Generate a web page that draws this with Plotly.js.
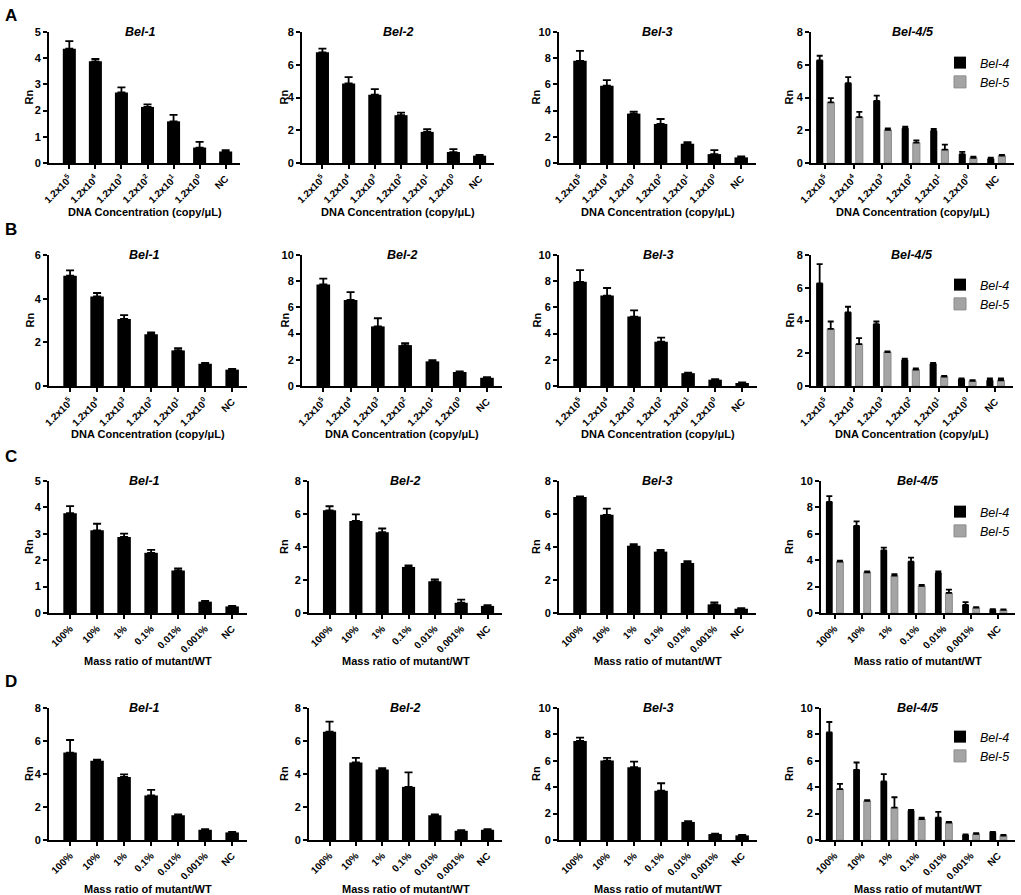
<!DOCTYPE html>
<html>
<head>
<meta charset="utf-8">
<script src="https://cdn.plot.ly/plotly-3.0.1.min.js"></script>
<style>
  html, body { margin: 0; padding: 0; background: #fff; }
  #chart { width: 1021px; height: 895px; }
</style>
</head>
<body>
<div id="chart"></div>
<script>
const W = 1021, H = 895;

// categories
const concLabels = ['1.2x10<sup>5</sup>', '1.2x10<sup>4</sup>', '1.2x10<sup>3</sup>', '1.2x10<sup>2</sup>', '1.2x10<sup>1</sup>', '1.2x10<sup>0</sup>', 'NC'];
const massLabels = ['100%', '10%', '1%', '0.1%', '0.01%', '0.001%', 'NC'];

// A - DNA concentration, run 1
const aBel1 = [4.36, 3.88, 2.69, 2.14, 1.59, 0.59, 0.44];
const aBel1Sd = [0.29, 0.09, 0.2, 0.1, 0.25, 0.22, 0.05];
const aBel2 = [6.76, 4.86, 4.17, 2.92, 1.9, 0.67, 0.45];
const aBel2Sd = [0.22, 0.38, 0.34, 0.16, 0.16, 0.18, 0.04];
const aBel3 = [7.8, 5.9, 3.77, 2.98, 1.47, 0.68, 0.43];
const aBel3Sd = [0.76, 0.43, 0.15, 0.38, 0.12, 0.3, 0.08];
const aBel4 = [6.27, 4.87, 3.8, 2.12, 1.97, 0.54, 0.26];
const aBel4Sd = [0.28, 0.38, 0.32, 0.1, 0.12, 0.14, 0.07];
const aBel5 = [3.7, 2.8, 2.02, 1.24, 0.82, 0.32, 0.45];
const aBel5Sd = [0.26, 0.32, 0.1, 0.14, 0.3, 0.07, 0.05];

// B - DNA concentration, run 2
const bBel1 = [5.05, 4.1, 3.07, 2.37, 1.63, 1.02, 0.75];
const bBel1Sd = [0.25, 0.16, 0.18, 0.08, 0.1, 0.04, 0.03];
const bBel2 = [7.75, 6.57, 4.55, 3.12, 1.88, 1.07, 0.63];
const bBel2Sd = [0.45, 0.6, 0.62, 0.15, 0.1, 0.05, 0.05];
const bBel3 = [7.95, 6.9, 5.3, 3.38, 0.98, 0.48, 0.23];
const bBel3Sd = [0.9, 0.58, 0.48, 0.32, 0.04, 0.04, 0.05];
const bBel4 = [6.27, 4.5, 3.78, 1.6, 1.36, 0.43, 0.35];
const bBel4Sd = [1.17, 0.34, 0.16, 0.07, 0.05, 0.04, 0.12];
const bBel5 = [3.49, 2.56, 2.07, 1.0, 0.57, 0.31, 0.35];
const bBel5Sd = [0.45, 0.36, 0.04, 0.08, 0.04, 0.04, 0.12];

// C - mass ratio, run 1
const cBel1 = [3.78, 3.13, 2.88, 2.28, 1.61, 0.43, 0.25];
const cBel1Sd = [0.27, 0.25, 0.13, 0.11, 0.08, 0.03, 0.02];
const cBel2 = [6.22, 5.58, 4.9, 2.79, 1.92, 0.62, 0.43];
const cBel2Sd = [0.25, 0.4, 0.22, 0.1, 0.12, 0.19, 0.04];
const cBel3 = [7.03, 5.95, 4.07, 3.72, 3.03, 0.52, 0.26];
const cBel3Sd = [0.04, 0.37, 0.11, 0.11, 0.11, 0.12, 0.04];
const cBel4 = [8.41, 6.59, 4.75, 3.89, 3.03, 0.61, 0.25];
const cBel4Sd = [0.45, 0.35, 0.2, 0.3, 0.13, 0.22, 0.05];
const cBel5 = [3.89, 3.08, 2.83, 2.05, 1.52, 0.4, 0.23];
const cBel5Sd = [0.07, 0.08, 0.12, 0.07, 0.25, 0.05, 0.05];

// D - mass ratio, run 2
const dBel1 = [5.3, 4.8, 3.82, 2.7, 1.5, 0.62, 0.46];
const dBel1Sd = [0.76, 0.07, 0.16, 0.34, 0.05, 0.04, 0.03];
const dBel2 = [6.56, 4.7, 4.28, 3.22, 1.5, 0.56, 0.62];
const dBel2Sd = [0.61, 0.28, 0.07, 0.88, 0.05, 0.03, 0.03];
const dBel3 = [7.5, 6.02, 5.52, 3.73, 1.37, 0.45, 0.35];
const dBel3Sd = [0.26, 0.2, 0.42, 0.57, 0.05, 0.03, 0.03];
const dBel4 = [8.15, 5.32, 4.43, 2.23, 1.7, 0.38, 0.58];
const dBel4Sd = [0.79, 0.55, 0.56, 0.05, 0.43, 0.05, 0.03];
const dBel5 = [3.85, 2.96, 2.46, 1.59, 1.32, 0.46, 0.33];
const dBel5Sd = [0.4, 0.05, 0.78, 0.11, 0.05, 0.05, 0.05];

const titles = ['Bel-1', 'Bel-2', 'Bel-3', 'Bel-4/5'];
const rowLetters = ['A', 'B', 'C', 'D'];
const rowCats = [concLabels, concLabels, massLabels, massLabels];
const rowXTitles = ['DNA Concentration (copy/\u03bcL)', 'DNA Concentration (copy/\u03bcL)', 'Mass ratio of mutant/WT', 'Mass ratio of mutant/WT'];

// per-row: single series for col 1-3, pair for col 4
const rowData = [
  [[aBel1, aBel1Sd], [aBel2, aBel2Sd], [aBel3, aBel3Sd], [aBel4, aBel4Sd, aBel5, aBel5Sd]],
  [[bBel1, bBel1Sd], [bBel2, bBel2Sd], [bBel3, bBel3Sd], [bBel4, bBel4Sd, bBel5, bBel5Sd]],
  [[cBel1, cBel1Sd], [cBel2, cBel2Sd], [cBel3, cBel3Sd], [cBel4, cBel4Sd, cBel5, cBel5Sd]],
  [[dBel1, dBel1Sd], [dBel2, dBel2Sd], [dBel3, dBel3Sd], [dBel4, dBel4Sd, dBel5, dBel5Sd]]
];
const yMax = [[5, 8, 10, 8], [6, 10, 10, 8], [5, 8, 8, 10], [8, 8, 10, 10]];

// layout in pixels
const rowTop = [32, 255, 481, 708];
const rowZero = [163, 386, 613, 840];
const rowXTitleY = [212, 434, 661, 889];
const rowLetterY = [16, 229, 456, 681];
const rowLegendTop = [48, 270, 497, 722];
const colPx = [
  [[49, 240], [302, 494], [559, 756], [811, 1014]],
  [[49, 247], [302, 502], [559, 757], [811, 1013]],
  [[49, 247], [309, 502], [559, 756], [821, 1015]],
  [[49, 247], [309, 502], [559, 757], [821, 1015]]
];
const rnX = [29, 284, 536, 789];

const FONT = 'Liberation Sans, Arial, Helvetica, sans-serif';
const zeros = n => new Array(n).fill(0);

const data = [];
const layout = {
  width: W, height: H,
  margin: {l: 0, r: 0, t: 0, b: 0},
  paper_bgcolor: '#fff', plot_bgcolor: '#fff',
  font: {family: FONT, color: '#000'},
  barmode: 'overlay',
  annotations: []
};

function errBar(sd, w) {
  return {type: 'data', symmetric: false, array: sd, arrayminus: zeros(sd.length),
          color: '#000', thickness: 1.8, width: w};
}

for (let r = 0; r < 4; r++) {
  for (let c = 0; c < 4; c++) {
    const k = r * 4 + c + 1;
    const xa = 'x' + k, ya = 'y' + k;
    const d = rowData[r][c];
    const cats = rowCats[r];
    const [x0, x1] = colPx[r][c];
    const grouped = c === 3;

    if (!grouped) {
      data.push({type: 'bar', x: cats, y: d[0], xaxis: xa, yaxis: ya,
        width: 0.5, marker: {color: '#000', line: {width: 0}},
        error_y: errBar(d[1], 4), showlegend: false, hoverinfo: 'skip'});
    } else {
      const lg = r === 0 ? 'legend' : 'legend' + (r + 1);
      data.push({type: 'bar', name: 'Bel-4', x: cats, y: d[0], xaxis: xa, yaxis: ya,
        width: 0.25, offset: -0.32, legend: lg,
        marker: {color: '#000', line: {width: 0}},
        error_y: errBar(d[1], 3), hoverinfo: 'skip'});
      data.push({type: 'bar', name: 'Bel-5', x: cats, y: d[2], xaxis: xa, yaxis: ya,
        width: 0.25, offset: 0.07, legend: lg,
        marker: {color: '#a4a4a4', line: {color: '#8a8a8a', width: 1}},
        error_y: errBar(d[3], 3), hoverinfo: 'skip'});
      layout[lg] = {
        x: 940 / W, xanchor: 'left', y: 1 - rowLegendTop[r] / H, yanchor: 'top',
        bgcolor: 'rgba(0,0,0,0)', borderwidth: 0, tracegroupgap: 0,
        font: {family: FONT, size: 12.5, style: 'italic', color: '#000'}
      };
    }

    const xKey = 'xaxis' + (k === 1 ? '' : k);
    const yKey = 'yaxis' + (k === 1 ? '' : k);
    layout[xKey] = {
      domain: [x0 / W, x1 / W], anchor: ya, type: 'category',
      range: grouped ? [-0.5, 6.62] : [-0.78, 6.55],
      showline: true, linecolor: '#000', linewidth: 2,
      ticks: 'outside', ticklen: 4, tickwidth: 2, tickcolor: '#000',
      tickangle: -45, showgrid: false, zeroline: false, fixedrange: true,
      tickfont: {family: FONT, size: 10, weight: 'bold', color: '#000'}
    };
    layout[yKey] = {
      domain: [1 - rowZero[r] / H, 1 - rowTop[r] / H], anchor: xa,
      range: [0, yMax[r][c]], tick0: 0, dtick: yMax[r][c] === 5 ? 1 : 2,
      showline: true, linecolor: '#000', linewidth: 2,
      ticks: 'outside', ticklen: 4, tickwidth: 2, tickcolor: '#000',
      showgrid: false, zeroline: false, fixedrange: true,
      tickfont: {family: FONT, size: 11, weight: 'bold', color: '#000'}
    };

    const ann = layout.annotations;
    ann.push({text: '<b><i>' + titles[c] + '</i></b>', xref: 'paper', yref: 'paper',
      x: ((x0 + x1) / 2 - (c === 0 ? 4 : 0)) / W, y: 1 - rowTop[r] / H,
      xanchor: 'center', yanchor: 'middle', showarrow: false,
      font: {family: FONT, size: 12.5, color: '#000'}});
    ann.push({text: '<b>Rn</b>', xref: 'paper', yref: 'paper',
      x: rnX[c] / W, y: 1 - (rowTop[r] + rowZero[r]) / 2 / H, textangle: -90,
      xanchor: 'center', yanchor: 'middle', showarrow: false,
      font: {family: FONT, size: 11, color: '#000'}});
    ann.push({text: '<b>' + rowXTitles[r] + '</b>', xref: 'paper', yref: 'paper',
      x: (x0 + x1) / 2 / W, y: 1 - rowXTitleY[r] / H,
      xanchor: 'center', yanchor: 'middle', showarrow: false,
      font: {family: FONT, size: 11, color: '#000'}});
  }
  layout.annotations.push({text: '<b>' + rowLetters[r] + '</b>', xref: 'paper', yref: 'paper',
    x: 3 / W, y: 1 - rowLetterY[r] / H, xanchor: 'left', yanchor: 'middle', showarrow: false,
    font: {family: FONT, size: 17, color: '#000'}});
}

Plotly.newPlot('chart', data, layout, {displayModeBar: false, staticPlot: true});
</script>
</body>
</html>
